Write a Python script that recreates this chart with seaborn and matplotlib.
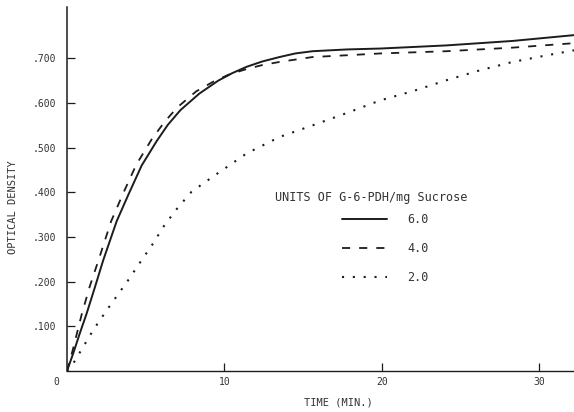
import numpy as np
import pandas as pd
import matplotlib
matplotlib.use("Agg")
import matplotlib.pyplot as plt
import seaborn as sns

# values (time in min, optical density)
time_6 = [0, 0.4, 0.8, 1.25, 1.75, 2.3, 3.15, 3.9, 4.74, 5.7, 6.4, 7.2, 8.4, 9.6, 10.5, 11.4, 12.4, 13.5, 14.5, 15.6, 17.8, 19.9, 24.1, 28.3, 32.2]
od_6 = [0, 0.04, 0.083, 0.129, 0.185, 0.248, 0.335, 0.395, 0.46, 0.515, 0.551, 0.584, 0.621, 0.65, 0.667, 0.681, 0.693, 0.703, 0.711, 0.716, 0.720, 0.722, 0.729, 0.739, 0.752]

time_4 = [0, 0.35, 0.95, 1.45, 2.0, 2.8, 3.57, 4.4, 5.4, 6.2, 7.0, 8.2, 9.3, 10.3, 11.4, 12.4, 13.5, 15.6, 17.8, 19.9, 24.1, 28.3, 32.2]
od_4 = [0, 0.045, 0.129, 0.19, 0.248, 0.335, 0.398, 0.462, 0.52, 0.558, 0.59, 0.626, 0.648, 0.664, 0.676, 0.685, 0.692, 0.703, 0.707, 0.711, 0.716, 0.724, 0.734]

time_2 = [0, 0.4, 1.67, 2.6, 3.9, 4.6, 5.4, 6.2, 7.0, 7.9, 9.3, 11.4, 13.5, 15.6, 17.8, 19.9, 22.0, 24.1, 26.2, 28.3, 30.5, 32.2]
od_2 = [0, 0.017, 0.092, 0.14, 0.204, 0.241, 0.282, 0.327, 0.364, 0.401, 0.436, 0.487, 0.524, 0.550, 0.578, 0.606, 0.627, 0.651, 0.673, 0.692, 0.707, 0.718]

series_labels = ["6.0", "4.0", "2.0"]
x_ticks = [10, 20, 30]
y_ticks = [0.1, 0.2, 0.3, 0.4, 0.5, 0.6, 0.7]
y_tick_labels = [".100", ".200", ".300", ".400", ".500", ".600", ".700"]

sns.set_theme(style="white")
plt.rcParams["font.family"] = ["DejaVu Sans Mono", "DejaVu Sans"]
INK = "#1c1c1c"
TXT = "#333333"

W, H = 574, 412
fig = plt.figure(figsize=(W / 100, H / 100), dpi=100)
ax = fig.add_axes([67 / W, (H - 371) / H, (W - 67) / W, (371 - 7) / H])

sns.lineplot(x=time_6, y=od_6, ax=ax, color=INK, lw=1.4, linestyle="-", label=series_labels[0])
sns.lineplot(x=time_4, y=od_4, ax=ax, color=INK, lw=1.3, linestyle=(0, (4.5, 5)), label=series_labels[1])
sns.lineplot(x=time_2, y=od_2, ax=ax, color=INK, lw=1.5, linestyle=(0, (1, 4.2)), label=series_labels[2])

ax.set_xlim(0, 32.2)
ax.set_ylim(0, 0.815)
ax.set_xticks(x_ticks)
ax.set_xticklabels([str(t) for t in x_ticks])
ax.set_yticks(y_ticks)
ax.set_yticklabels(y_tick_labels)
ax.tick_params(axis="both", direction="in", length=6, width=0.9, color=INK,
               labelsize=7, labelcolor=TXT)
ax.tick_params(axis="y", pad=8)
ax.tick_params(axis="x", pad=4)
ax.tick_params(left=True, bottom=True)

for side in ["top", "right"]:
    ax.spines[side].set_visible(False)
ax.spines["left"].set_color(INK)
ax.spines["left"].set_linewidth(1.1)
ax.spines["bottom"].set_color(INK)
ax.spines["bottom"].set_linewidth(1.0)

ax.annotate("0", xy=(0, 0), xytext=(-8, -8), textcoords="offset points",
            ha="center", va="center", fontsize=7, color=TXT)

ax.set_xlabel("TIME (MIN.)", fontsize=7.5, color=TXT)
ax.xaxis.set_label_coords((338 - 67) / (W - 67), -0.074)
ax.set_ylabel("OPTICAL DENSITY", fontsize=7.5, color=TXT)
ax.yaxis.set_label_coords(-0.096, 0.45)

leg = ax.legend(loc="upper left", bbox_to_anchor=(342 / W, 1 - 213 / H),
                bbox_transform=fig.transFigure, frameon=False, fontsize=8.5,
                handlelength=3.8, handletextpad=1.7, labelspacing=1.35,
                borderpad=0, borderaxespad=0)
for t in leg.get_texts():
    t.set_color(TXT)

fig.text(275 / W, 1 - 197 / H, "UNITS OF G-6-PDH/mg Sucrose", ha="left", va="center",
         fontsize=8.5, color=TXT)

fig.savefig("out.png", dpi=100)
